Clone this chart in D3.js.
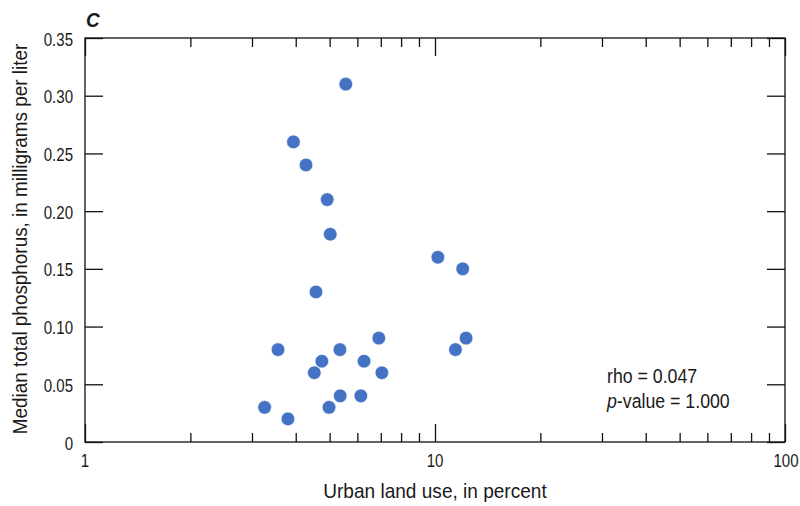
<!DOCTYPE html>
<html>
<head>
<meta charset="utf-8">
<script src="https://cdn.jsdelivr.net/npm/d3@7"></script>
<style>
  body { margin: 0; background: #fff; }
  svg text { font-family: "Liberation Sans Narrow", "Arial Narrow", "Liberation Sans", sans-serif; fill: #1a1a1a; }
</style>
</head>
<body>
<div id="chart"></div>
<script>
// urban land use (percent) vs median total phosphorus (mg/L)
var urban = [5.56, 3.94, 4.28, 4.92, 5.02, 10.19, 12.0, 4.57, 3.56, 5.35, 6.91,
             4.75, 6.27, 4.52, 7.05, 5.36, 6.14, 3.26, 4.98, 3.80, 11.44, 12.27];
var phos = [0.31, 0.26, 0.24, 0.21, 0.18, 0.16, 0.15, 0.13, 0.08, 0.08, 0.09,
            0.07, 0.07, 0.06, 0.06, 0.04, 0.04, 0.03, 0.03, 0.02, 0.08, 0.09];
var yTicks = [0, 0.05, 0.10, 0.15, 0.20, 0.25, 0.30, 0.35];
var xMajor = [1, 10, 100];

const width = 800, height = 506;
const m = {left: 85, right: 15, top: 38, bottom: 64};

var svg = d3.select("#chart").append("svg")
  .attr("width", width)
  .attr("height", height);

var x = d3.scaleLog().domain([1, 100]).range([m.left, width - m.right]);
var y = d3.scaleLinear().domain([0, 0.35]).range([height - m.bottom, m.top]);

var xMinor = [];
for (var d = 1; d < 100; d *= 10) {
  for (var k = 2; k < 10; k++) xMinor.push(d * k);
}

var fmtY = v => v === 0 ? "0" : d3.format(".2f")(v);
// no condensed font installed, so narrow the text by hand
var at = (px, py, s, rot) => `translate(${px},${py})` + (rot ? ` rotate(${rot})` : "") + ` scale(${s},1)`;

// ticks pointing inward on all four sides
function axes(g) {
  g.append("g").attr("transform", `translate(0,${y(0)})`)
    .call(d3.axisTop(x).tickValues(xMinor).tickSize(9).tickFormat(""));
  g.append("g").attr("transform", `translate(0,${y(0)})`)
    .call(d3.axisTop(x).tickValues(xMajor).tickSize(18).tickFormat(""));
  g.append("g").attr("transform", `translate(0,${y(0.35)})`)
    .call(d3.axisBottom(x).tickValues(xMinor).tickSize(9).tickFormat(""));
  g.append("g").attr("transform", `translate(0,${y(0.35)})`)
    .call(d3.axisBottom(x).tickValues(xMajor).tickSize(18).tickFormat(""));
  g.append("g").attr("transform", `translate(${x(1)},0)`)
    .call(d3.axisRight(y).tickValues(yTicks).tickSize(18).tickFormat(""));
  g.append("g").attr("transform", `translate(${x(100)},0)`)
    .call(d3.axisLeft(y).tickValues(yTicks).tickSize(18).tickFormat(""));
}
var ax = svg.append("g");
axes(ax);
ax.selectAll("path.domain").remove();
ax.selectAll("line").attr("stroke", "#111").attr("stroke-width", 1.3);

svg.append("rect")
  .attr("x", x(1)).attr("y", y(0.35))
  .attr("width", x(100) - x(1)).attr("height", y(0) - y(0.35))
  .attr("fill", "none").attr("stroke", "#111").attr("stroke-width", 1.3);

// tick labels
svg.selectAll(".ylab").data(yTicks).enter().append("text")
  .attr("transform", d => at(x(1) - 12, y(d) + 7.5, 0.86))
  .attr("text-anchor", "end").attr("font-size", 17.5)
  .text(fmtY);

svg.selectAll(".xlab").data(xMajor).enter().append("text")
  .attr("transform", d => at(x(d) + (d === 100 ? 1 : 0), y(0) + 25, 0.86))
  .attr("text-anchor", "middle").attr("font-size", 17.5)
  .text(d => d);

// axis titles
svg.append("text")
  .attr("transform", at(x(10), 498, 0.93))
  .attr("text-anchor", "middle").attr("font-size", 20.5)
  .text("Urban land use, in percent");

svg.append("text")
  .attr("transform", at(27, 239, 0.9, -90))
  .attr("text-anchor", "middle").attr("font-size", 21)
  .text("Median total phosphorus, in milligrams per liter");

svg.append("text")
  .attr("transform", at(x(1) + 1, 27, 0.95))
  .attr("font-size", 20).attr("font-weight", "bold").attr("font-style", "italic")
  .text("C");

// stats
svg.append("text")
  .attr("transform", at(607, 383, 0.91)).attr("font-size", 19.5)
  .text("rho = 0.047");
var pv = svg.append("text").attr("transform", at(607, 408, 0.91)).attr("font-size", 19.5);
pv.append("tspan").attr("font-style", "italic").text("p");
pv.append("tspan").text("-value = 1.000");

// points
svg.selectAll("circle").data(urban).enter().append("circle")
  .attr("cx", d => x(d))
  .attr("cy", (d, i) => y(phos[i]))
  .attr("r", 6.8)
  .attr("fill", "#4472C4")
  .attr("stroke", "#fff")
  .attr("stroke-width", 0.6);
</script>
</body>
</html>
